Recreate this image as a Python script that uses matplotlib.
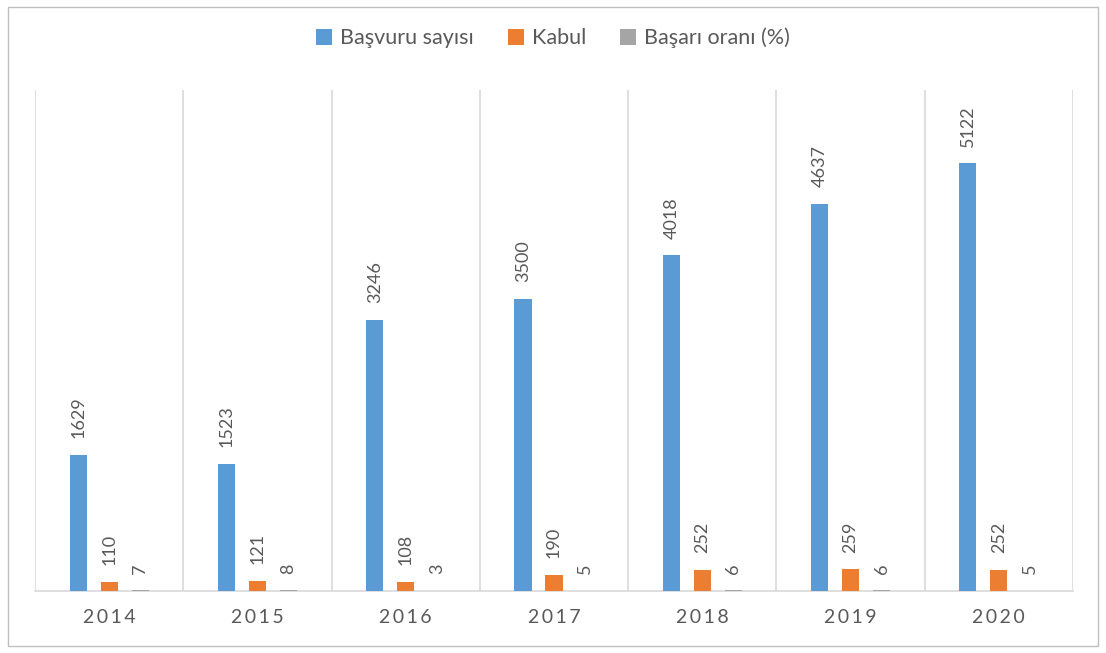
import matplotlib.pyplot as plt
import numpy as np
from matplotlib.patches import Rectangle

years = ["2014", "2015", "2016", "2017", "2018", "2019", "2020"]
basvuru = [1629, 1523, 3246, 3500, 4018, 4637, 5122]
kabul = [110, 121, 108, 190, 252, 259, 252]
basari = [7, 8, 3, 5, 6, 6, 5]

series = ["Başvuru sayısı", "Kabul", "Başarı oranı (%)"]
colors = ["#5B9BD5", "#ED7D31", "#A5A5A5"]
text_color = "#595959"

plt.rcParams['font.family'] = ['Lato', 'DejaVu Sans']

fig = plt.figure(figsize=(11.06, 6.53), dpi=100)
ax = fig.add_axes([35 / 1106, 62 / 653, 1038 / 1106, 501 / 653])

x = np.arange(len(years))
width = 0.115
offset = 0.209
for i, (vals, name, col) in enumerate(zip([basvuru, kabul, basari], series, colors)):
    pos = x + (i - 1) * offset
    ax.bar(pos, vals, width=width, color=col, label=name, zorder=3)
    for p, v in zip(pos, vals):
        ax.annotate(str(v), (p, v), xytext=(0, 12), textcoords="offset points",
                    rotation=90, ha="center", va="bottom", fontsize=13,
                    color=text_color)

ax.set_xlim(-0.5, len(years) - 0.5)
ax.set_ylim(0, 6000)
ax.set_yticks([])
ax.set_xticks(x)
# spaced digits like the original's character spacing
ax.set_xticklabels(["\u2009".join(y) for y in years], fontsize=14, color=text_color)
ax.set_xticks(np.arange(len(years) + 1) - 0.5, minor=True)
ax.tick_params(axis="x", which="both", length=0, pad=13)
ax.grid(which="minor", axis="x", color="#D9D9D9", linewidth=1.2, zorder=0)
for s in ["top", "left", "right"]:
    ax.spines[s].set_visible(False)
ax.spines["bottom"].set_color("#D9D9D9")
ax.spines["bottom"].set_linewidth(1.2)

fig.legend(loc="center", bbox_to_anchor=(0.5, 1 - 38 / 653), ncol=3, frameon=False,
           fontsize=15.5, labelcolor=text_color, handlelength=0.75, handleheight=0.75,
           columnspacing=1.6, handletextpad=0.35)

fig.patches.append(Rectangle((8 / 1106, 7 / 653), 1090 / 1106, 639 / 653,
                             transform=fig.transFigure, fill=False,
                             edgecolor="#BFBFBF", linewidth=1))

fig.savefig("out.png", dpi=100)
